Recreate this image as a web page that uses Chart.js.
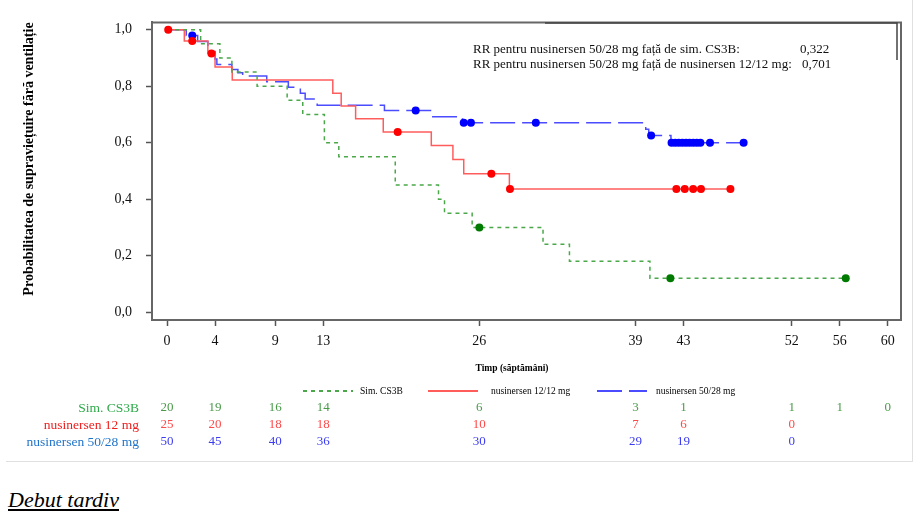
<!DOCTYPE html>
<html lang="ro">
<head>
<meta charset="UTF-8">
<title>Supraviețuire fără ventilație</title>
<script src="https://cdn.jsdelivr.net/npm/chart.js@4.4.1/dist/chart.umd.min.js"></script>
<style>
  body { margin: 0; background: #fff; font-family: 'Liberation Serif', 'Times New Roman', serif; }
  #page { position: relative; width: 920px; height: 522px; overflow: hidden; }
  #km { position: absolute; left: 0; top: 0; }
  .rule-h { position: absolute; left: 6px; top: 461px; width: 907px; height: 1px; background: #e0e0e0; }
  .rule-v { position: absolute; left: 912px; top: 0; width: 1px; height: 462px; background: #e0e0e0; }
  #caption { position: absolute; left: 8px; top: 489px; font-size: 22px; line-height: 22px; font-style: italic; text-decoration: underline; color: #000; }
</style>
</head>
<body>
<div id="page">
  <canvas id="km" width="920" height="470"></canvas>
  <div class="rule-h"></div>
  <div class="rule-v"></div>
  <div id="caption">Debut tardiv</div>
</div>
<script>
const serif = "'Liberation Serif', 'Times New Roman', serif";

// Sim. CS3B - step times (weeks) and survival after each step
const simTimes = [0, 2.8, 4.4, 5.4, 7.5, 10.0, 11.3, 13.1, 14.3, 19.0, 22.6, 23.1, 25.4, 31.3, 33.5, 40.2, 56.5];
const simSurv  = [1.0, 0.95, 0.90, 0.85, 0.80, 0.75, 0.70, 0.60, 0.55, 0.45, 0.40, 0.35, 0.30, 0.24, 0.18, 0.12, 0.12];
const simCensor = [26.0, 41.9, 56.5];

// nusinersen 12/12 mg
const n12Times = [0, 1.44, 3.4, 4.0, 5.43, 13.8, 14.5, 15.7, 18.0, 22.0, 23.8, 24.7, 28.5, 46.9];
const n12Surv  = [1.0, 0.96, 0.916, 0.868, 0.822, 0.775, 0.73, 0.685, 0.638, 0.59, 0.54, 0.49, 0.436, 0.436];
const n12Censor = [0.1, 2.1, 3.7, 19.2, 27.0, 28.55, 42.4, 43.1, 43.8, 44.45, 46.9];

// nusinersen 50/28 mg
const n50Times = [0, 1.6, 2.55, 3.4, 4.0, 4.15, 5.4, 5.9, 6.3, 8.3, 10.1, 11.1, 11.5, 12.5, 18.1, 22.0, 24.6, 39.85, 40.1, 41.95, 48.0];
const n50Surv  = [1.0, 0.98, 0.958, 0.923, 0.896, 0.877, 0.859, 0.848, 0.836, 0.816, 0.796, 0.775, 0.755, 0.733, 0.714, 0.692, 0.671, 0.648, 0.625, 0.600, 0.600];
const n50Censor = [2.1, 20.7, 24.7, 25.3, 30.7, 40.3, 42.0, 42.3, 42.6, 42.9, 43.2, 43.5, 43.8, 44.1, 44.4, 45.2, 48.0];

// axis ticks and number-at-risk table
const xTicks = [0, 4, 9, 13, 26, 39, 43, 52, 56, 60];
const yTicks = [0, 0.2, 0.4, 0.6, 0.8, 1.0];
const riskSim = [20, 19, 16, 14, 6, 3, 1, 1, 1, 0];
const riskN12 = [25, 20, 18, 18, 10, 7, 6, 0, null, null];
const riskN50 = [50, 45, 40, 36, 30, 29, 19, 0, null, null];

const legendNames = ['Sim. CS3B', 'nusinersen 12/12 mg', 'nusinersen 50/28 mg'];
const riskNames = ['Sim. CS3B', 'nusinersen 12 mg', 'nusinersen 50/28 mg'];
const rrLabels = ['RR pentru nusinersen 50/28 mg față de sim. CS3B:', 'RR pentru nusinersen 50/28 mg față de nusinersen 12/12 mg:'];
const rrValues = ['0,322', '0,701'];

function curve(times, surv) {
    return times.map((t, i) => ({ x: t, y: surv[i] }));
}
function survAt(times, surv, t) {
    let v = surv[0];
    for (let i = 0; i < times.length; i++) if (times[i] <= t) v = surv[i];
    return v;
}
function marks(times, surv, cens) {
    return cens.map(t => ({ x: t, y: survAt(times, surv, t) }));
}

const lineColors = ['#4aa84a', '#ff5c5c', '#4b4bff'];
const dotColors = ['#007a00', '#ff0000', '#0000ff'];
const dashes = [[4, 4], [], [25, 7]];
const riskLabelColors = ['#2eaa4a', '#ee1c1c', '#1f73c9'];
const riskNumColors = ['#4a9a4a', '#ff4a4a', '#3c3cf0'];
const legendLineX = [303, 428, 597];
const legendTextX = [360, 491, 656];
const riskRowsY = [408, 425, 442];

const lineSets = [
    curve(simTimes, simSurv),
    curve(n12Times, n12Surv),
    curve(n50Times, n50Surv)
];
const markSets = [
    marks(simTimes, simSurv, simCensor),
    marks(n12Times, n12Surv, n12Censor),
    marks(n50Times, n50Surv, n50Censor)
];
const riskRows = [riskSim, riskN12, riskN50];

const datasets = [];
markSets.forEach((d, i) => datasets.push({
    label: legendNames[i] + ' cenzurat',
    data: d,
    showLine: false,
    pointRadius: 4,
    pointBorderWidth: 0,
    pointBackgroundColor: dotColors[i],
    order: 0
}));
lineSets.forEach((d, i) => datasets.push({
    label: legendNames[i],
    data: d,
    showLine: true,
    stepped: 'before',
    borderColor: lineColors[i],
    borderWidth: 1.5,
    borderDash: dashes[i],
    pointRadius: 0,
    order: 1
}));

const extras = {
    id: 'extras',
    afterDraw(chart) {
        const { ctx, chartArea: a, scales: { x } } = chart;
        ctx.save();
        // rest of the frame
        ctx.strokeStyle = '#666';
        ctx.lineWidth = 2;
        ctx.beginPath();
        ctx.moveTo(a.left - 1, a.top);
        ctx.lineTo(a.right, a.top);
        ctx.lineTo(a.right, a.bottom + 1);
        ctx.stroke();

        // RR box + text
        ctx.strokeStyle = '#444';
        ctx.lineWidth = 1.5;
        ctx.beginPath();
        ctx.moveTo(545, 23);
        ctx.lineTo(897, 23);
        ctx.lineTo(897, 60);
        ctx.stroke();
        ctx.fillStyle = '#111';
        ctx.font = '13px ' + serif;
        ctx.textBaseline = 'middle';
        ctx.textAlign = 'left';
        rrLabels.forEach((t, i) => {
            ctx.fillText(t, 473, 50 + i * 15);
            ctx.fillText(rrValues[i], 800 + i * 2, 50 + i * 15);
        });

        // x title
        ctx.font = 'bold 9.5px ' + serif;
        ctx.textAlign = 'center';
        ctx.fillStyle = '#000';
        ctx.fillText('Timp (săptămâni)', 512, 369);

        // legend
        ctx.font = '9.5px ' + serif;
        ctx.textAlign = 'left';
        legendNames.forEach((name, i) => {
            ctx.strokeStyle = lineColors[i];
            ctx.lineWidth = 2;
            ctx.setLineDash(dashes[i]);
            ctx.beginPath();
            ctx.moveTo(legendLineX[i], 391);
            ctx.lineTo(legendLineX[i] + 50, 391);
            ctx.stroke();
            ctx.setLineDash([]);
            ctx.fillStyle = '#000';
            ctx.fillText(name, legendTextX[i], 391);
        });

        // number at risk
        riskRows.forEach((row, r) => {
            ctx.font = '13.5px ' + serif;
            ctx.textAlign = 'right';
            ctx.fillStyle = riskLabelColors[r];
            ctx.fillText(riskNames[r], 139, riskRowsY[r]);
            ctx.font = '13px ' + serif;
            ctx.textAlign = 'center';
            ctx.fillStyle = riskNumColors[r];
            row.forEach((n, k) => {
                if (n === null) return;
                ctx.fillText(String(n), x.getPixelForValue(xTicks[k]), riskRowsY[r]);
            });
        });
        ctx.restore();
    }
};

Chart.defaults.font.family = serif;

new Chart(document.getElementById('km').getContext('2d'), {
    type: 'scatter',
    data: { datasets },
    options: {
        responsive: false,
        animation: false,
        events: [],
        layout: { padding: { left: 14, top: 17, right: 19, bottom: 88 } },
        plugins: { legend: { display: false }, tooltip: { enabled: false } },
        scales: {
            x: {
                type: 'linear',
                min: -1.25,
                max: 61.1,
                afterBuildTicks: s => { s.ticks = xTicks.map(v => ({ value: v })); },
                afterFit: s => { s.height = 62; },
                ticks: { font: { size: 14 }, color: '#111', padding: 7, maxRotation: 0, autoSkip: false },
                grid: { display: true, drawOnChartArea: false, drawTicks: true, tickLength: 6, color: '#555', tickWidth: 1.5 },
                border: { display: true, color: '#666', width: 2 }
            },
            y: {
                type: 'linear',
                min: -0.028,
                max: 1.026,
                afterBuildTicks: s => { s.ticks = yTicks.map(v => ({ value: v })); },
                afterFit: s => { s.width = 138; },
                ticks: { font: { size: 14 }, color: '#111', padding: 14, callback: v => v.toFixed(1).replace('.', ',') },
                grid: { display: true, drawOnChartArea: false, drawTicks: true, tickLength: 6, color: '#555', tickWidth: 1.5 },
                border: { display: true, color: '#666', width: 2 },
                title: {
                    display: true,
                    text: 'Probabilitatea de supraviețuire fără ventilație',
                    align: 'end',
                    color: '#000',
                    font: { size: 14, weight: 'bold' },
                    padding: { top: 7, bottom: 0 }
                }
            }
        }
    },
    plugins: [extras]
});
</script>
</body>
</html>
